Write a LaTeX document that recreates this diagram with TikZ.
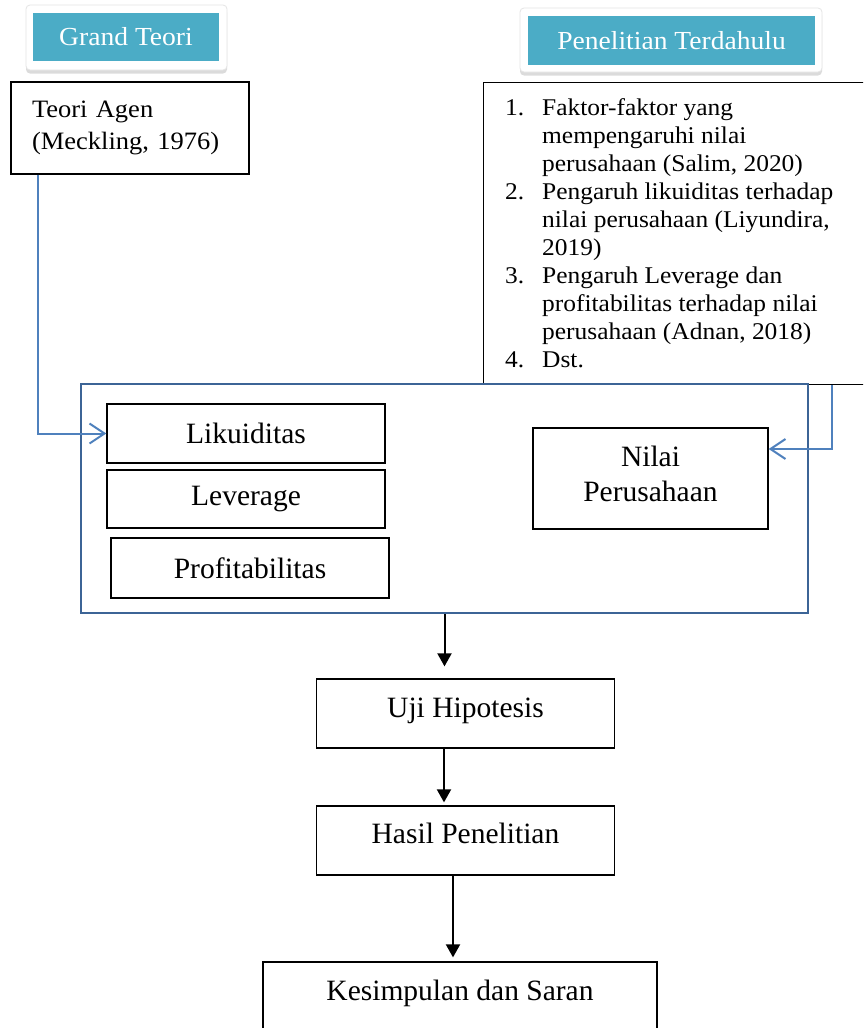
\documentclass[tikz,border=0pt]{standalone}
\usepackage{fontspec}
\setmainfont{Liberation Serif}
\newfontfamily\camb[FakeStretch=1.06]{Liberation Serif}
\usetikzlibrary{arrows.meta,shadows}
\definecolor{tealhdr}{HTML}{4BACC6}
\definecolor{arrblue}{HTML}{4F81BD}
\definecolor{frameblue}{HTML}{3C6496}
\tikzset{
  bx/.style={draw=black, line width=1.3pt, fill=white, inner sep=0pt},
  lowtxt/.style={font=\fontsize{29.5}{33}\selectfont},
  hdrout/.style={fill=white, draw=black!10, line width=0.8pt, rounded corners=4pt, inner sep=0pt,
    drop shadow={shadow xshift=0pt, shadow yshift=-3.5pt, opacity=0.28}},
  hdrin/.style={fill=tealhdr, text=white, inner sep=0pt,
    font=\camb\fontsize{26}{30}\selectfont},
  bconn/.style={draw=arrblue, line width=2pt,
    -{Straight Barb[length=15pt,width=20pt]}},
  barr/.style={draw=black, line width=2pt, -{Triangle[length=13pt,width=14pt]}}
}
\begin{document}
\begin{tikzpicture}[x=1pt,y=-1pt]
\useasboundingbox (0,0) rectangle (863,1028);
\fill[white] (0,0) rectangle (863,1028);
\clip (0,0) rectangle (863,1028);

% headers
\node[hdrout, minimum width=201pt, minimum height=65pt] (gtout) at (126.5,37.5) {};
\node[hdrin, minimum width=186pt, minimum height=48pt] (gt) at (126,37) {Grand Teori};
\node[hdrout, minimum width=302pt, minimum height=64pt] (ptout) at (671,40) {};
\node[hdrin, minimum width=287pt, minimum height=49pt] (pt) at (671.5,40.5) {Penelitian Terdahulu};

% Teori Agen box
\node[bx, minimum width=238pt, minimum height=92pt, inner xsep=21pt, text width=196pt,
  align=left, font=\camb\fontsize{25}{32}\selectfont] (teori) at (130,128)
  {Teori Agen\\(Meckling, 1976)};

% Penelitian terdahulu list box
\node[bx, anchor=north west, minimum width=420pt, minimum height=302pt] (lit) at (483,82) {};
\node[anchor=north west, inner sep=0pt, align=left,
  font=\camb\fontsize{24}{28}\selectfont] (littext) at (505,98.6)
  {\makebox[37pt][l]{1.}Faktor-faktor yang\\
   \makebox[37pt][l]{}mempengaruhi nilai\\
   \makebox[37pt][l]{}perusahaan (Salim, 2020)\\
   \makebox[37pt][l]{2.}Pengaruh likuiditas terhadap\\
   \makebox[37pt][l]{}nilai perusahaan (Liyundira,\\
   \makebox[37pt][l]{}2019)\\
   \makebox[37pt][l]{3.}Pengaruh Leverage dan\\
   \makebox[37pt][l]{}profitabilitas terhadap nilai\\
   \makebox[37pt][l]{}perusahaan (Adnan, 2018)\\
   \makebox[37pt][l]{4.}Dst.};

% main frame
\node[draw=frameblue, line width=2.4pt, fill=white, minimum width=727pt, minimum height=229pt,
  inner sep=0pt] (main) at (444.5,498.5) {};

% variable boxes
\node[bx, lowtxt, minimum width=278pt, minimum height=59pt] (lik) at (246,433.5) {Likuiditas};
\node[bx, lowtxt, minimum width=278pt, minimum height=58pt] (lev) at (246,499) {Leverage};
\node[bx, lowtxt, minimum width=278pt, minimum height=60pt] (prof) at (250,568) {Profitabilitas};
\node[bx, minimum width=235pt, minimum height=101pt] (nilai) at (650.5,478.5) {};
\node[align=center, font=\fontsize{29.5}{35}\selectfont, inner sep=0pt] (nilaitxt)
  at ([yshift=5pt]nilai.center) {Nilai\\Perusahaan};

% lower flow
\node[bx, lowtxt, minimum width=298pt, text height=38pt, text depth=31pt] (uji) at (465.5,713.5) {Uji Hipotesis};
\node[bx, lowtxt, minimum width=298pt, text height=37pt, text depth=32pt] (hasil) at (465.5,840.5) {Hasil Penelitian};
\node[bx, lowtxt, minimum width=394pt, text height=38pt, text depth=62pt] (kes) at (460,1012) {Kesimpulan dan Saran};

% blue connectors
\draw[bconn] ([xshift=28pt]teori.south west) |- (lik.west);
\draw[bconn] ([xshift=349pt]lit.south west) |- ([yshift=29.5pt]nilai.east);

% black arrows
\draw[barr, shorten >=12pt] (main.south) -- (main.south |- uji.north);
\coordinate (a2) at ([xshift=-21.5pt]uji.south);
\draw[barr, shorten >=3pt] (a2) -- (a2 |- hasil.north);
\coordinate (a3) at ([xshift=-12.5pt]hasil.south);
\draw[barr, shorten >=4pt] (a3) -- (a3 |- kes.north);
\end{tikzpicture}
\end{document}
